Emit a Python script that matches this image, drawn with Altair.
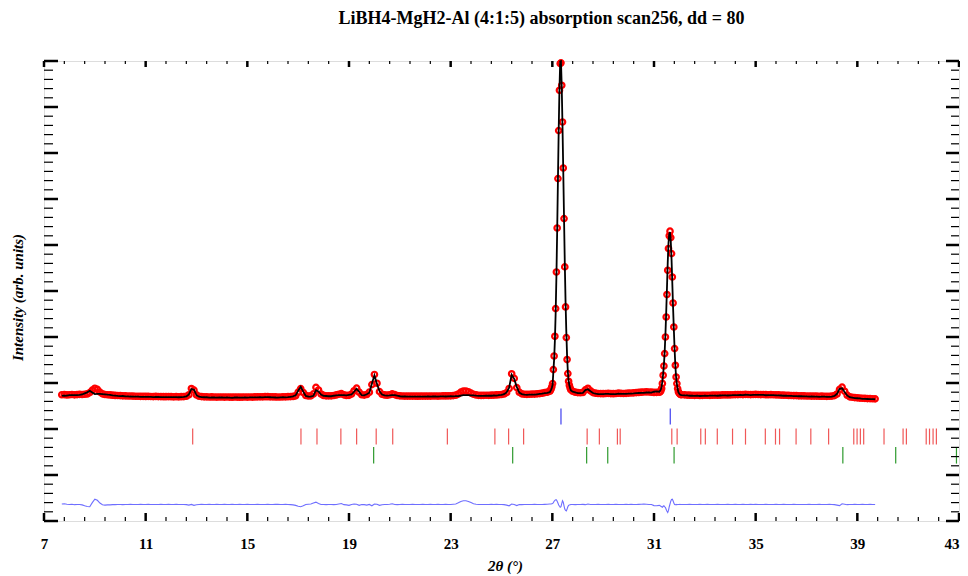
import altair as alt
import pandas as pd

TITLE = "LiBH4-MgH2-Al (4:1:5) absorption scan256, dd = 80"

# ---------------- observed intensity and (obs - calc) difference ----------------
# segment A: 7.7 .. 26.9, step 0.1
obs_a = [1745, 1748, 1740,
         1745, 1750, 1742, 1748, 1752, 1750, 1755, 1762, 1790, 1845,
         1885, 1862, 1802, 1765, 1750, 1745, 1740, 1735, 1730, 1728,
         1725, 1722, 1720, 1718, 1718, 1715, 1712, 1712, 1710, 1710,
         1708, 1710, 1706, 1705, 1708, 1704, 1705, 1702, 1703, 1705,
         1702, 1700, 1703, 1700, 1702, 1705, 1712, 1745, 1880, 1845,
         1740, 1712, 1705, 1700, 1698, 1696, 1697, 1695, 1694, 1696,
         1695, 1694, 1696, 1693, 1692, 1695, 1694, 1692, 1693, 1695,
         1694, 1696, 1694, 1697, 1698, 1700, 1699, 1702, 1703, 1700,
         1698, 1697, 1695, 1696, 1698, 1700, 1702, 1705, 1708, 1722,
         1800, 1878, 1792, 1730, 1718, 1722, 1762, 1905, 1848, 1760,
         1730, 1722, 1720, 1722, 1728, 1740, 1755, 1768, 1742, 1730,
         1732, 1760, 1830, 1888, 1800, 1745, 1738, 1750, 1800, 1965,
         2185, 1995, 1812, 1755, 1740, 1735, 1745, 1762, 1748, 1728,
         1722, 1718, 1716, 1715, 1714, 1716, 1715, 1713, 1714, 1716,
         1715, 1716, 1714, 1717, 1718, 1716, 1718, 1720, 1719, 1721,
         1722, 1726, 1735, 1760, 1800, 1825, 1826, 1810, 1780, 1755,
         1740, 1732, 1730, 1731, 1733, 1732, 1735, 1738, 1740, 1745,
         1750, 1762, 1790, 1880, 2200, 2100, 1900, 1800, 1765, 1755,
         1752, 1755, 1758, 1760, 1765, 1770, 1778, 1790, 1800, 1820]
diff_a = [20, 25, 15,
          10, 15, 5, 10, 10, 0, -20, -35, -40, 50,
          125, 100, 40, 5, -5, 0, 0, 5, 5, 10,
          10, 5, 10, 8, 12, 10, 8, 10, 12, 10,
          10, 12, 8, 10, 10, 8, 12, 10, 10, 12,
          10, 8, 12, 10, 10, 8, 5, -5, 10, -10,
          5, 10, 12, 10, 8, 12, 10, 10, 12, 10,
          10, 12, 8, 10, 14, 10, 8, 12, 10, 10,
          12, 10, 8, 10, 12, 10, 10, 8, 12, 10,
          10, 12, 15, 10, 8, 12, 10, 5, 0, -10,
          -30, -40, -20, 10, 15, 20, 40, 60, 30, 10,
          10, 5, 8, 10, 5, 10, 20, 30, 5, 0,
          -10, 10, 20, 15, -10, 10, 5, -5, 10, -20,
          20, 15, -10, 5, 10, 8, 15, 25, 10, 5,
          10, 12, 8, 10, 10, 12, 10, 8, 10, 12,
          10, 8, 12, 10, 10, 12, 8, 10, 12, 10,
          10, 15, 20, 45, 75, 90, 90, 75, 50, 25,
          15, 10, 8, 10, 10, 8, 12, 10, 15, 10,
          10, 5, -5, -20, 20, 10, -15, 10, 5, 10,
          10, 8, 10, 12, 10, 8, 10, 12, 15, 20]

# segment B: 26.92 .. 27.73, step 0.03 (main peak)
obs_b = [1840, 1870, 1920, 1987, 2291, 2587, 3015, 3617, 4413, 5370,
         6443, 7487, 8363, 8943, 8960, 8472, 7674, 6674, 5574, 4524,
         3654, 2987, 2509, 2204, 2037, 1950, 1890, 1850]
diff_b = [20, 20, 25, 30, 50, 80, 100, 110, 110, 80,
          40, 0, -30, -50, -40, 30, 90, 60, -20, -90,
          -120, -130, -90, -40, -10, 0, 5, 10]

# segment C: 27.8 .. 31.1, step 0.1
obs_c = [1820, 1800,
         1790, 1788, 1795, 1850, 1885, 1830, 1790, 1778, 1772, 1770,
         1768, 1772, 1775, 1770, 1768, 1772, 1778, 1775, 1772, 1776,
         1780, 1782, 1785, 1790, 1795, 1800, 1805, 1808, 1805, 1800,
         1795, 1798]
diff_c = [10, 5,
          10, 8, 12, 5, 20, 10, 8, 10, 12, 10,
          10, 8, 12, 10, 8, 12, 10, 10, 8, 12,
          10, 12, 10, 8, 12, 15, 18, 15, 10, 8,
          -15, -20]

# segment D: 31.21 .. 32.08, step 0.03 (second peak)
obs_d = [1800, 1810, 1830, 1880, 1990, 2167, 2370, 2639, 3000, 3435,
         3922, 4450, 4922, 5200, 5300, 5161, 4813, 4304, 3739, 3217,
         2748, 2385, 2130, 1987, 1878, 1810, 1780, 1760, 1750, 1745]
diff_d = [-10, -20, -30, -40, -50, -30, -20, -40, -60, -100,
          -140, -165, -120, -40, 20, 80, 120, 125, 90, 40,
          10, 5, 10, 5, 10, 8, 10, 12, 10, 10]

# segment E: 32.2 .. 39.7, step 0.1
obs_e = [1742, 1738, 1735, 1733, 1732, 1733, 1730, 1732,
         1733, 1734, 1732, 1735, 1736, 1735, 1738, 1740, 1742, 1740,
         1742, 1745, 1747, 1748, 1750, 1748, 1752, 1750, 1748, 1750,
         1752, 1750, 1748, 1750, 1746, 1745, 1748, 1744, 1742, 1740,
         1738, 1735, 1733, 1730, 1728, 1726, 1725, 1722, 1720, 1720,
         1718, 1717, 1716, 1715, 1714, 1712, 1713, 1712, 1710, 1712,
         1715, 1725, 1760, 1860, 1910, 1820, 1735, 1700, 1690, 1682,
         1678, 1672, 1668, 1665, 1662, 1660, 1658, 1655]
diff_e = [10, 8, 12, 10, 10, 8, 12, 10,
          10, 12, 8, 10, 10, 12, 10, 8, 10, 12,
          10, 8, 12, 10, 10, 12, 8, 10, 12, 10,
          12, 10, 8, 10, 12, 10, 10, 8, 12, 10,
          10, 12, 10, 8, 10, 12, 10, 10, 8, 10,
          10, 12, 8, 10, 10, 12, 10, 8, 10, 12,
          10, 5, -5, -15, 25, 15, 5, 10, 10, 12,
          10, 8, 12, 10, 10, 12, 10, 8]

segments = [(7.7, 0.1, obs_a, diff_a),
            (26.92, 0.03, obs_b, diff_b),
            (27.8, 0.1, obs_c, diff_c),
            (31.21, 0.03, obs_d, diff_d),
            (32.2, 0.1, obs_e, diff_e)]

# Bragg reflection positions (2theta) for the three phases
blue_ticks = [27.34, 31.64]
red_ticks = [12.85, 17.11, 17.74, 18.68, 19.30, 20.07, 20.72, 22.87, 24.74, 25.28,
             25.87, 28.37, 28.85, 29.56, 29.67, 31.70, 31.91, 32.84, 33.02, 33.49,
             34.09, 34.60, 35.38, 35.78, 35.94, 36.59, 37.17, 37.87, 38.86, 38.99,
             39.12, 39.25, 40.05, 40.80, 40.93, 41.71, 41.84, 41.98, 42.11]
green_ticks = [19.97, 25.44, 28.35, 29.18, 31.79, 38.43, 40.51, 42.90]

# axis ticks
x_major = [7, 11, 15, 19, 23, 27, 31, 35, 39, 43]
x_minor = [round(7 + 0.8 * i, 2) for i in range(46) if i % 5 != 0]
y_major = [-1000 + 1000 * i for i in range(11)]
y_minor = [-1000 + 200 * i for i in range(51) if i % 5 != 0]

DIFF_OFFSET = -650

rows = []
for start, step, obs, diff in segments:
    assert len(obs) == len(diff)
    for i, (o, d) in enumerate(zip(obs, diff)):
        rows.append({"tt": round(start + i * step, 3), "obs": o,
                     "calc": o - d, "diff": d + DIFF_OFFSET})
df = pd.DataFrame(rows).sort_values("tt")

W, H = 915, 460
FONT = "Liberation Serif"
xs = alt.Scale(domain=[7, 43], nice=False, zero=False)
ys = alt.Scale(domain=[-1000, 9000], nice=False, zero=False)

xaxis = alt.Axis(values=x_major, format="d", labelFont=FONT, labelFontSize=15,
                 labelFontWeight="bold", labelColor="black", labelFlush=False,
                 labelAlign={"condition": {"test": "datum.value >= 43", "value": "right"},
                             "value": "center"},
                 labelOverlap=False, labelPadding=15, ticks=False, tickSize=0,
                 domain=False, grid=False, title="2θ (°)", titleFont=FONT,
                 titleFontSize=15, titleFontWeight="bold", titleFontStyle="italic",
                 titleColor="black", titlePadding=7, titleX=461)
yaxis = alt.Axis(labels=False, ticks=False, tickSize=0, domain=False, grid=False,
                 title="Intensity (arb. units)", titleFont=FONT, titleFontSize=15,
                 titleFontWeight="bold", titleFontStyle="italic", titleColor="black",
                 titlePadding=19, titleY=236)

X = alt.X("tt:Q", scale=xs, axis=xaxis)

obs_layer = alt.Chart(df).mark_point(shape="circle", filled=False, size=30,
                                     strokeWidth=2.2, color="#ff0000", opacity=1).encode(
    x=X, y=alt.Y("obs:Q", scale=ys, axis=yaxis))
calc_layer = alt.Chart(df).mark_line(color="black", strokeWidth=1.8).encode(
    x=X, y=alt.Y("calc:Q", scale=ys, axis=yaxis))
diff_layer = alt.Chart(df).mark_line(color="#6e6eff", strokeWidth=1.1).encode(
    x=X, y=alt.Y("diff:Q", scale=ys, axis=yaxis))


def refl(vals, color, y1, y2):
    return alt.Chart(pd.DataFrame({"tt": vals})).mark_rule(color=color, strokeWidth=1.2).encode(
        x=X, y=alt.datum(y1, scale=ys, axis=yaxis), y2=alt.datum(y2))


blue_layer = refl(blue_ticks, "#4040f0", 1443, 1096)
red_layer = refl(red_ticks, "#f05858", 1009, 661)
green_layer = refl(green_ticks, "#2e9a2e", 609, 248)


def xt(vals, y1, y2, sw):
    return alt.Chart(pd.DataFrame({"tt": vals})).mark_rule(color="black", strokeWidth=sw).encode(
        x=X, y=alt.value(y1), y2=alt.value(y2))


def yt(vals, x1, x2, sw):
    return alt.Chart(pd.DataFrame({"v": vals})).mark_rule(color="black", strokeWidth=sw).encode(
        y=alt.Y("v:Q", scale=ys, axis=yaxis), x=alt.value(x1), x2=alt.value(x2))


tick_layers = [
    xt(x_major, H, H - 8, 2.5), xt(x_minor, H, H - 4, 1.2),
    xt(x_major, 0, 6, 2.5), xt(x_minor, 0, 3, 1.2),
    yt(y_major, 0, 14, 2.5), yt(y_minor, 0, 9, 1.2),
    yt(y_major, W, W - 13, 2.5), yt(y_minor, W, W - 8, 1.2),
]

chart = alt.layer(obs_layer, calc_layer, diff_layer, blue_layer, red_layer, green_layer,
                  *tick_layers).properties(
    width=W, height=H,
    autosize=alt.AutoSizeParams(type="none"),
    padding={"left": 36, "top": 53, "right": 1, "bottom": 55},
    title=alt.TitleParams(text=TITLE, font=FONT, fontSize=18, fontWeight="bold",
                          color="black", anchor="middle", frame="group", dx=40, offset=28),
).configure_view(stroke="black", strokeWidth=2.5).configure(background="white")

chart.save("out.html", embed_options={"renderer": "svg", "actions": False})
